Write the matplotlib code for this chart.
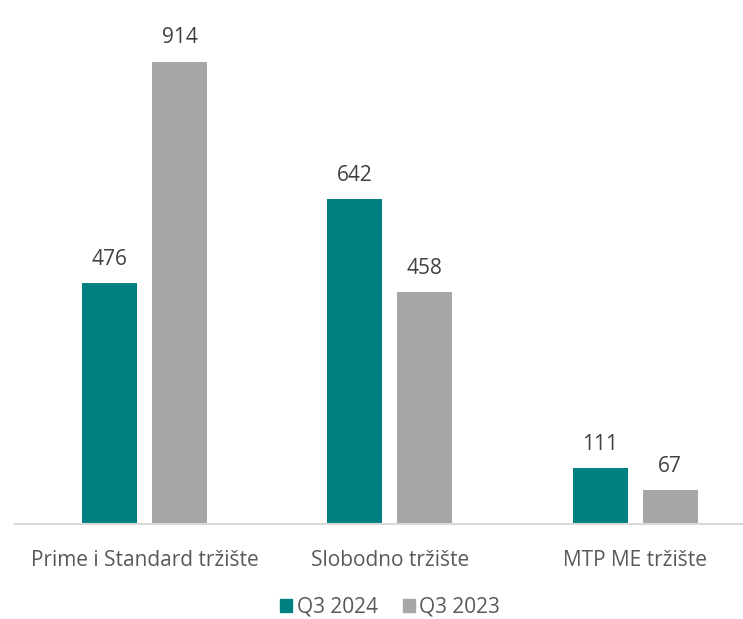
import numpy as np
import matplotlib.pyplot as plt
from matplotlib.patches import Patch

categories = ["Prime i Standard tržište", "Slobodno tržište", "MTP ME tržište"]
q3_2024 = [476, 642, 111]
q3_2023 = [914, 458, 67]

teal = "#008080"
grey = "#A6A6A6"
plt.rcParams['font.family'] = ['Liberation Sans Narrow', 'Open Sans', 'DejaVu Sans']

fig = plt.figure(figsize=(7.43, 6.19), dpi=100)
ax = fig.add_axes([15/743, 95/619, 728/743, 524/619])

x = np.arange(len(categories))
w = 0.224
off = 0.1427
b1 = ax.bar(x - off, q3_2024, w, color=teal)
b2 = ax.bar(x + off, q3_2023, w, color=grey)

for bars, vals in ((b1, q3_2024), (b2, q3_2023)):
    for r, v in zip(bars, vals):
        ax.text(r.get_x() + r.get_width()/2, v + 47, str(v), ha='center', va='center',
                fontsize=15, color='#404040')

ax.set_xlim(-0.528, 2.44)
ax.set_ylim(0, 1036)
for s in ['top', 'right', 'left']:
    ax.spines[s].set_visible(False)
ax.spines['bottom'].set_color('#D9D9D9')
ax.spines['bottom'].set_linewidth(1.5)
ax.set_yticks([])
ax.set_xticks(x)
ax.set_xticklabels(categories, fontsize=15, color='#595959')
ax.tick_params(axis='x', length=0, pad=19)

handles = [Patch(color=teal, label='Q3 2024'), Patch(color=grey, label='Q3 2023')]
fig.legend(handles=handles, loc='center', bbox_to_anchor=(390/743, 1 - 607/619), ncol=2,
           frameon=False, fontsize=15, handlelength=0.6, handleheight=0.6,
           handletextpad=0.2, columnspacing=1.2, labelcolor='#595959')

fig.savefig('out.png', dpi=100)
